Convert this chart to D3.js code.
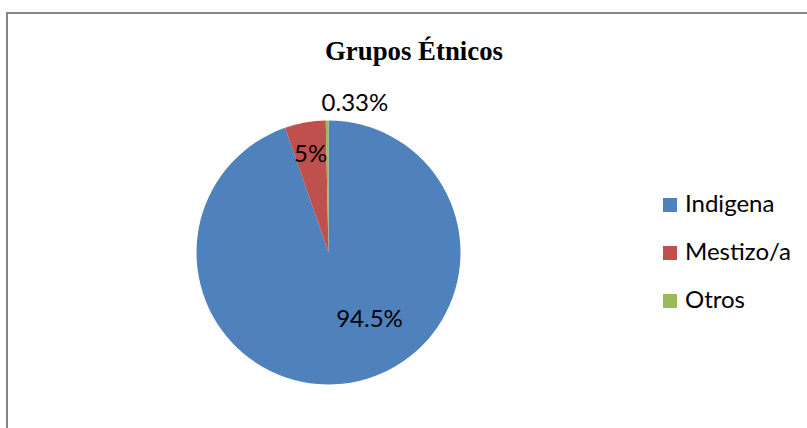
<!DOCTYPE html>
<html>
<head>
<meta charset="utf-8">
<script src="https://cdn.jsdelivr.net/npm/d3@7"></script>
<style>
  html, body { margin: 0; padding: 0; background: #fff; }
  svg { display: block; }
</style>
</head>
<body>
<svg id="chart" width="807" height="428"></svg>
<script>
// ---- data ----
const categories = ["Indigena", "Mestizo/a", "Otros"];
const values = [94.5, 5, 0.33];
const valueLabels = ["94.5%", "5%", "0.33%"];
const colors = ["#4F81BD", "#C0504D", "#9BBB59"];
const title = "Grupos Étnicos";

// ---- layout ----
const W = 807, H = 428;
const cx = 328.5, cy = 252.5, R = 132;
const labelFont = "Lato, 'Open Sans', sans-serif";

const svg = d3.select("#chart");

// chart border
svg.append("rect")
  .attr("x", 7).attr("y", 13)
  .attr("width", 830).attr("height", 440)
  .attr("fill", "#fff")
  .attr("stroke", "#868686")
  .attr("stroke-width", 2);

// title
svg.append("text")
  .attr("x", 414).attr("y", 60)
  .attr("text-anchor", "middle")
  .attr("font-family", "'Liberation Serif', 'Times New Roman', serif")
  .attr("font-weight", "bold")
  .attr("font-size", 26.8)
  .attr("fill", "#000")
  .text(title);

const color = d3.scaleOrdinal().domain(categories).range(colors);

const pie = d3.pie().sort(null).value(d => d.value);
const data = categories.map((c, i) => ({ name: c, value: values[i], label: valueLabels[i] }));
const arcs = pie(data);

const arc = d3.arc().innerRadius(0).outerRadius(R);

const g = svg.append("g").attr("transform", `translate(${cx},${cy})`);
g.selectAll("path.slice")
  .data(arcs)
  .enter().append("path")
  .attr("class", "slice")
  .attr("d", arc)
  .attr("fill", d => color(d.data.name));

// label placement (layout, per slice): angle shift (rad) and radius
const labelLayout = [
  { shift: -0.39, r: 77.5, dx: 0, dy: 0 },
  { shift: 0.0, r: 101, dx: 0, dy: 0 },
  { shift: 0.0, r: 150, dx: 28, dy: 0 }
];
g.selectAll("text.lbl")
  .data(arcs)
  .enter().append("text")
  .attr("class", "lbl")
  .attr("transform", (d, i) => {
    const L = labelLayout[i];
    const a = (d.startAngle + d.endAngle) / 2 + L.shift;
    const p = d3.arc().innerRadius(L.r).outerRadius(L.r).centroid({ startAngle: a, endAngle: a });
    return `translate(${p[0] + L.dx},${p[1] + L.dy})`;
  })
  .attr("text-anchor", "middle")
  .attr("dy", "0.35em")
  .attr("font-family", labelFont)
  .attr("font-size", 24)
  .attr("fill", "#000")
  .text(d => d.data.label);

// legend
const legend = svg.append("g").attr("transform", "translate(663,198)");
const items = legend.selectAll("g.item")
  .data(categories)
  .enter().append("g")
  .attr("class", "item")
  .attr("transform", (d, i) => `translate(0,${i * 48})`);
items.append("rect")
  .attr("width", 14).attr("height", 14)
  .attr("fill", d => color(d));
items.append("text")
  .attr("x", 22).attr("y", 14)
  .attr("font-family", labelFont)
  .attr("font-size", 24)
  .attr("fill", "#000")
  .text(d => d);
</script>
</body>
</html>
